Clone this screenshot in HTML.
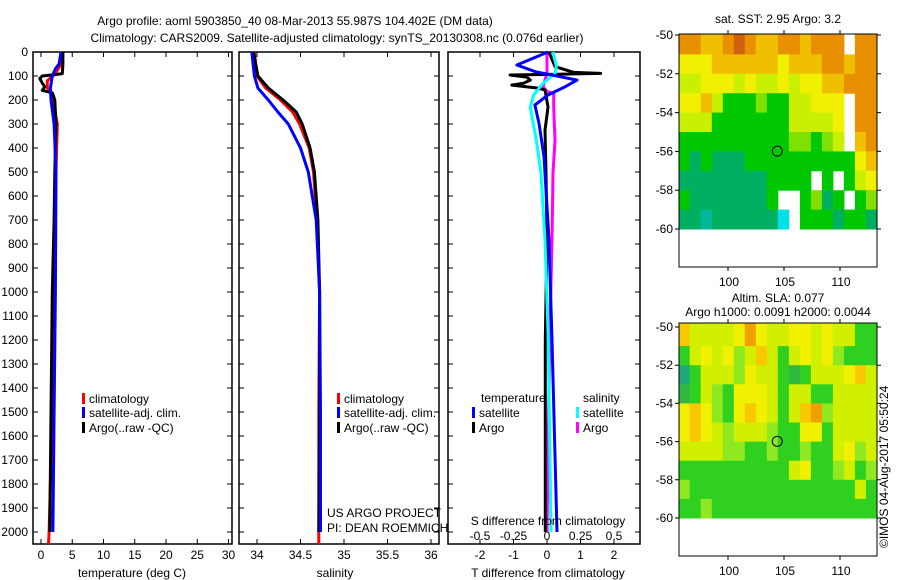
<!DOCTYPE html>
<html><head><meta charset="utf-8">
<style>
html,body{margin:0;padding:0;background:#fff;}
svg{display:block;font-family:"Liberation Sans",sans-serif;}
text{font-size:12px;fill:#000;}
</style></head>
<body>
<svg id="chart" width="900" height="580" viewBox="0 0 900 580">
<text x="295" y="25" text-anchor="middle">Argo profile: aoml 5903850_40 08-Mar-2013 55.987S 104.402E (DM data)</text>
<text x="337" y="42" text-anchor="middle">Climatology: CARS2009. Satellite-adjusted climatology: synTS_20130308.nc (0.076d earlier)</text>
<g id="p1"></g>
<g id="p2"></g>
<g id="p3"></g>
<g id="m1"></g>
<g id="m2"></g>
<text transform="translate(888,548) rotate(-90)">©IMOS 04-Aug-2017 05:50:24</text>
</svg>
<script>
// ---- profile data ----
const depthTicks = [0,100,200,300,400,500,600,700,800,900,1000,1100,1200,1300,1400,1500,1600,1700,1800,1900,2000];
const tTicks = [0,5,10,15,20,25,30];
const sTicks = [34,34.5,35,35.5,36];
const sTickLabels = ["34","34.5","35","35.5","36"];
const dtTicks = [-2,-1,0,1,2];
const dsTicks = [-0.5,-0.25,0,0.25,0.5];
const dsTickLabels = ["-0.5","-0.25","0","0.25","0.5"];

const argoTDepth = [0,50,90,95,100,110,130,145,160,170,200,300,500,700,1000,1500,2000];
const argoT = [3.5,3.5,3.4,2.0,0.2,-0.2,0.2,0.6,0.2,1.8,2.2,2.4,2.2,2.1,1.8,1.6,1.4];
const climTDepth = [0,50,90,120,150,170,200,300,500,1000,1500,2000,2050];
const climT = [3.4,3.2,2.3,1.0,1.0,1.6,1.9,2.6,2.4,2.1,1.8,1.3,1.2];
const satTDepth = [0,50,70,100,150,200,300,500,1000,1500,2000];
const satT = [3.2,2.9,2.3,1.8,1.5,1.6,2.1,2.4,2.3,2.1,1.9];

const argoSDepth = [0,100,150,200,250,300,400,500,700,1000,1500,2000];
const argoS = [33.96,34.01,34.13,34.30,34.45,34.52,34.61,34.66,34.70,34.72,34.72,34.71];
const climSDepth = [0,100,150,200,250,300,400,500,700,1000,1500,2050];
const climS = [33.97,34.0,34.1,34.27,34.41,34.49,34.60,34.65,34.69,34.72,34.71,34.71];
const satSDepth = [0,100,150,200,250,300,400,500,700,1000,1500,2000];
const satS = [33.94,33.97,34.01,34.13,34.24,34.36,34.50,34.59,34.68,34.72,34.73,34.73];

const dTSatDepth = [0,54,82,117,144,179,221,297,436,575,783,1200,2000];
const dTSat = [0.03,-0.9,-0.35,0.9,0.55,0.03,-0.36,-0.24,-0.09,-0.03,0.06,0.15,0.3];
const dTArgoDepth = [0,61,85,89,93,96,105,117,130,138,150,158,229,326,505,783,1200,2000];
const dTArgo = [0.06,0.24,0.8,1.6,0.3,-1.1,-0.6,-0.5,-0.7,-1.05,-0.3,-0.06,0.03,-0.06,-0.03,0,-0.05,-0.05];
const dSSatDepth = [0,61,89,131,179,229,367,505,644,783,1200,2000];
const dSSat = [0.045,0.07,0.06,-0.03,-0.1,-0.125,-0.08,-0.045,-0.03,-0.015,0.01,0.03];
const dSArgoDepth = [0,89,144,165,173,229,367,505,783,1200,2000];
const dSArgo = [0,0,-0.03,0.0,0.05,0.05,0.06,0.045,0.037,0.02,0.0];

// ---- map data (rows -50..-60 by 1 deg, 18 lon columns; -1 = missing) ----
const sstGrid = [
[8,8,7,7,8,9,8,7,7,8,8,7,8,8,8,-1,8,8],
[6,6,6,7,7,7,7,7,7,6,7,7,7,8,8,7,8,8],
[5,5,6,6,6,5,6,5,5,6,5,6,6,7,7,8,8,8],
[6,6,7,5,3,3,3,4,3,3,5,5,6,6,6,-1,8,8],
[5,5,5,3,3,3,3,3,3,3,5,5,5,5,6,-1,8,8],
[3,3,3,3,3,3,3,3,3,3,4,4,3,4,5,-1,7,8],
[3,2,3,2,2,2,3,3,3,3,3,3,3,3,3,3,6,7],
[2,2,2,2,2,2,2,2,3,3,3,3,-1,3,-1,3,5,6],
[3,2,2,2,2,2,2,2,3,-1,-1,3,4,2,3,-1,3,4],
[2,2,1,2,2,2,2,2,2,0,-1,3,3,3,2,3,3,2]];
const slaGrid = [
[7,5,5,5,5,6,8,6,5,5,6,6,5,6,5,5,3,3],
[3,5,6,5,6,4,5,7,5,3,5,6,5,6,4,3,3,3],
[1,3,5,5,5,4,6,5,5,3,2,3,5,5,5,6,7,5],
[2,3,5,4,3,6,6,6,5,3,5,5,3,3,5,5,5,5],
[6,7,6,4,3,6,7,6,5,3,5,7,8,4,5,5,5,5],
[6,7,6,5,4,5,5,5,4,3,3,6,6,3,5,5,5,5],
[5,5,5,5,4,4,3,3,4,3,3,4,3,3,5,6,4,5],
[3,3,3,3,3,3,3,3,3,3,5,6,3,3,4,5,3,4],
[4,3,3,3,3,3,3,3,3,3,3,3,3,3,3,3,5,3],
[3,3,4,3,3,3,3,3,3,3,3,3,3,3,3,3,3,3]];
const lonTicks = [100,105,110];
const latTicks = [-50,-52,-54,-56,-58,-60];
const floatLon = 104.402, floatLat = -55.987;

const NS = "http://www.w3.org/2000/svg";
function el(parent, tag, attrs, txt){
  const e = document.createElementNS(NS, tag);
  for (const k in attrs) e.setAttribute(k, attrs[k]);
  if (txt !== undefined) e.textContent = txt;
  parent.appendChild(e); return e;
}
const TOP = 52, BOT = 544;
const yD = d => TOP + d * 0.24;

function panel(g, x0, x1, xs, ticks, labels, showY){
  const b = el(g,'rect',{x:x0,y:TOP,width:x1-x0,height:BOT-TOP,fill:'none',stroke:'#000','stroke-width':1.5});
   
  depthTicks.forEach(d=>{
    const y = yD(d);
    const l = el(g,'path',{d:`M${x0} ${y}h5M${x1} ${y}h-5`,stroke:'#000','stroke-width':1});
     
    if (showY){
      const t = el(g,'text',{x:x0-5,y:y+4,'text-anchor':'end'},String(d));
       
    }
  });
  ticks.forEach((v,i)=>{
    const x = xs(v);
    const l = el(g,'path',{d:`M${x} ${BOT}v-5M${x} ${TOP}v5`,stroke:'#000','stroke-width':1});
     
    if (labels){
      const t = el(g,'text',{x:x,y:559,'text-anchor':'middle'},labels[i]);
       
    }
  });
}
function line(g, xs, vals, depths, color, name){
  const pts = vals.map((v,i)=>`${xs(v).toFixed(1)},${yD(depths[i]).toFixed(1)}`).join(' ');
  const p = el(g,'polyline',{points:pts,fill:'none',stroke:color,'stroke-width':3,'stroke-linejoin':'round'});
   
}
function legend(g, x, y, color, label){
  const r = el(g,'rect',{x:x,y:y-9,width:3,height:11,fill:color});
   
  if (label){
    const t = el(g,'text',{x:x+7,y:y+1},label);
     
  }
}

// Panel 1: temperature
const g1 = document.getElementById('p1');
const xT = v => 41 + v * 6.25;
panel(g1, 33, 232, xT, tTicks, tTicks.map(String), true);
line(g1, xT, climT, climTDepth, '#ff0000', 'climatology-temperature-line');
line(g1, xT, argoT, argoTDepth, '#000000', 'argo-temperature-line');
line(g1, xT, satT, satTDepth, '#0000ff', 'satellite-temperature-line');
el(g1,'text',{x:132,y:577,'text-anchor':'middle'},'temperature (deg C)');
legend(g1, 82, 402, '#ff0000', 'climatology');
legend(g1, 82, 416, '#0000ff', 'satellite-adj. clim.');
legend(g1, 82, 431, '#000000', 'Argo(..raw -QC)');

// Panel 2: salinity
const g2 = document.getElementById('p2');
const xS = v => 257 + (v - 34) * 87;
panel(g2, 239, 439, xS, sTicks, sTickLabels, false);
line(g2, xS, climS, climSDepth, '#ff0000', 'climatology-salinity-line');
line(g2, xS, argoS, argoSDepth, '#000000', 'argo-salinity-line');
line(g2, xS, satS, satSDepth, '#0000ff', 'satellite-salinity-line');
el(g2,'text',{x:335,y:577,'text-anchor':'middle'},'salinity');
legend(g2, 337, 402, '#ff0000', 'climatology');
legend(g2, 337, 416, '#0000ff', 'satellite-adj. clim.');
legend(g2, 337, 431, '#000000', 'Argo(..raw -QC)');
el(g2,'text',{x:327,y:517},'US ARGO PROJECT');
el(g2,'text',{x:327,y:532},'PI: DEAN ROEMMICH');

// Panel 3: differences
const g3 = document.getElementById('p3');
const xDT = v => 547 + v * 33.5;
const xDS = v => 547 + v * 134;
panel(g3, 448, 640, xDT, dtTicks, dtTicks.map(String), false);
line(g3, xDS, dSArgo, dSArgoDepth, '#ff00ff', 'argo-salinity-diff-line');
line(g3, xDT, dTArgo, dTArgoDepth, '#000000', 'argo-temperature-diff-line');
line(g3, xDS, dSSat, dSSatDepth, '#00ffff', 'satellite-salinity-diff-line');
line(g3, xDT, dTSat, dTSatDepth, '#0000ff', 'satellite-temperature-diff-line');
dsTicks.forEach((v,i)=>{
  const t = el(g3,'text',{x:xDS(v),y:540,'text-anchor':'middle'},dsTickLabels[i]);
   
});
el(g3,'text',{x:548,y:525,'text-anchor':'middle'},'S difference from climatology');
el(g3,'text',{x:548,y:577,'text-anchor':'middle'},'T difference from climatology');
el(g3,'text',{x:481,y:402},'temperature');
el(g3,'text',{x:583,y:402},'salinity');
legend(g3, 472, 416, '#0000ff', 'satellite');
legend(g3, 472, 431, '#000000', 'Argo');
legend(g3, 576, 416, '#00ffff', 'satellite');
legend(g3, 576, 431, '#ff00ff', 'Argo');

// Maps
const sstColors = ['#00e0e8','#00b898','#00b060','#00c800','#80e000','#c8f000','#f0f000','#f0c000','#e89000','#d06010'];
const slaColors = ['#00a090','#20a878','#30b840','#30d020','#90e820','#d0f000','#f0f000','#f8c800','#f0a000'];
function map(g, top, lat50, pxDeg, grid, colors, titles){
  const x0 = 679, x1 = 877, bottom = top + 233;
  const xL = lon => 728 + (lon - 100) * 11.2;
  const yL = lat => lat50 + (-50 - lat) * pxDeg;
  const lon0 = 95.6, dLon = (113.3 - 95.6) / 18;
  grid.forEach((row, r)=>{
    row.forEach((v, c)=>{
      if (v < 0) return;
      const xa = xL(lon0 + c*dLon), xb = xL(lon0 + (c+1)*dLon);
      const ya = yL(-50 - r), yb = yL(-51 - r);
      const cell = el(g,'rect',{x:xa.toFixed(1),y:(r===0?top:ya).toFixed(1),width:(xb-xa+0.5).toFixed(1),height:(yb-(r===0?top:ya)+0.5).toFixed(1),fill:colors[v]});
      
      
    });
  });
  const f = el(g,'rect',{x:x0,y:top,width:x1-x0,height:bottom-top,fill:'none',stroke:'#000','stroke-width':1});
   
  latTicks.forEach(lat=>{
    const y = yL(lat);
    const l = el(g,'path',{d:`M${x0} ${y}h-4M${x1} ${y}h4`,stroke:'#000'});
     
    const t = el(g,'text',{x:x0-6,y:y+4,'text-anchor':'end'},String(lat));
     
  });
  lonTicks.forEach(lon=>{
    const x = xL(lon);
    const l = el(g,'path',{d:`M${x} ${bottom}v4M${x} ${top}v-4`,stroke:'#000'});
     
    const t = el(g,'text',{x:x+1,y:bottom+19,'text-anchor':'middle'},String(lon));
     
  });
  const c = el(g,'circle',{cx:xL(floatLon),cy:yL(floatLat),r:5,fill:'none',stroke:'#000','stroke-width':1});
   
  titles.forEach((tt,i)=>{
    const t = el(g,'text',{x:778,y:tt[1],'text-anchor':'middle'},tt[0]);
     
  });
}
map(document.getElementById('m1'), 34, 35, 19.4, sstGrid, sstColors, [['sat. SST: 2.95 Argo: 3.2',23]]);
map(document.getElementById('m2'), 323, 327, 19.1, slaGrid, slaColors, [['Altim. SLA: 0.077',302],['Argo h1000: 0.0091 h2000: 0.0044',316]]);
</script>
</body></html>
